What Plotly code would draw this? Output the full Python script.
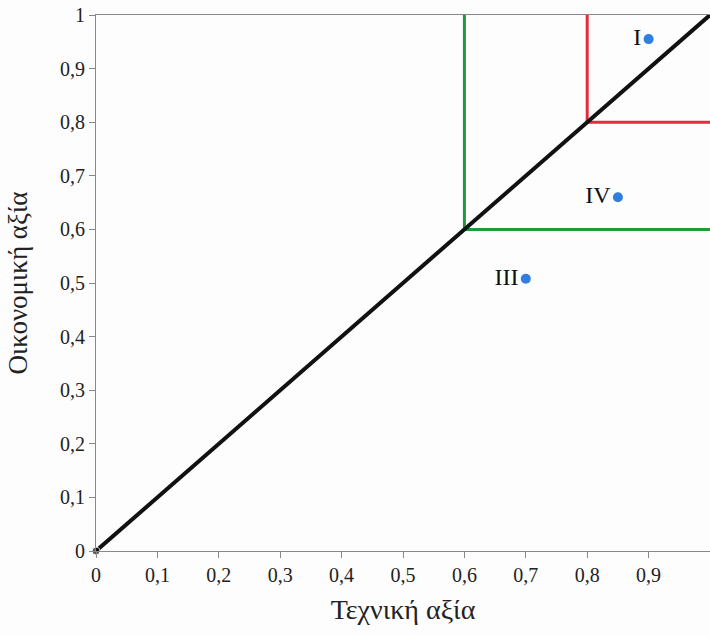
import plotly.graph_objects as go

# Data
diag_x = [0, 1]
diag_y = [0, 1]
green_x = [0.6, 0.6, 1.0]
green_y = [1.0, 0.6, 0.6]
red_x = [0.8, 0.8, 1.0]
red_y = [1.0, 0.8, 0.8]
pt_labels = ["I", "IV", "III"]
pt_x = [0.90, 0.85, 0.70]
pt_y = [0.955, 0.66, 0.508]
tick_vals = [0, 0.1, 0.2, 0.3, 0.4, 0.5, 0.6, 0.7, 0.8, 0.9, 1]
tick_text = ["0", "0,1", "0,2", "0,3", "0,4", "0,5", "0,6", "0,7", "0,8", "0,9", "1"]

font = "Liberation Serif"

fig = go.Figure()
fig.add_trace(go.Scatter(x=green_x, y=green_y, mode="lines",
                         line=dict(color="#1f9a3a", width=3), hoverinfo="skip"))
fig.add_trace(go.Scatter(x=red_x, y=red_y, mode="lines",
                         line=dict(color="#e8283c", width=3), hoverinfo="skip"))
fig.add_trace(go.Scatter(x=diag_x, y=diag_y, mode="lines+markers",
                         line=dict(color="#111111", width=4),
                         marker=dict(color="#111111", size=[8, 0]), hoverinfo="skip"))
fig.add_trace(go.Scatter(x=pt_x, y=pt_y, mode="markers+text",
                         marker=dict(color="#2f7fe0", size=10),
                         text=pt_labels, textposition="middle left",
                         textfont=dict(family=font, size=24, color="#111111")))

fig.update_layout(
    width=710, height=636,
    margin=dict(l=96, r=0, t=15, b=85),
    font=dict(family=font, size=20, color="#222222"),
    paper_bgcolor="#fdfdfe", plot_bgcolor="#fdfdfe",
    showlegend=False,
)
for upd in (fig.update_xaxes, fig.update_yaxes):
    upd(range=[0, 1], tickmode="array", tickvals=tick_vals, ticktext=tick_text,
        showgrid=False, zeroline=False, showline=True,
        linecolor="#888888", linewidth=1, mirror=True,
        ticks="outside", ticklen=6, tickcolor="#888888",
        automargin=False,
        tickfont=dict(family=font, size=20, color="#222222"))
fig.update_xaxes(title=dict(text="Τεχνική αξία", font=dict(family=font, size=28, color="#222222"), standoff=14))
fig.update_yaxes(title=dict(text="Οικονομική αξία", font=dict(family=font, size=27, color="#222222"), standoff=24))
fig.update_traces(cliponaxis=False)
fig.write_html("out.html", config={"displayModeBar": False},
               post_script="document.body.style.margin='0px';document.body.style.overflow='hidden';")
